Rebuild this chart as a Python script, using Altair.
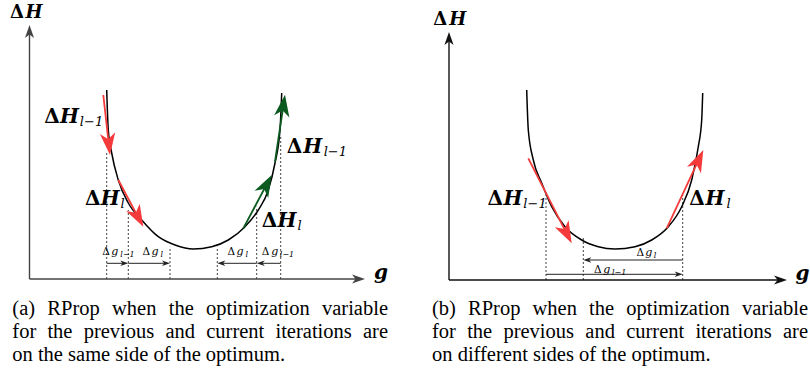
import math
import altair as alt
import pandas as pd

# ---------------- Panel (a): same side of the optimum ----------------
A_CURVE_G = [77.2, 78.8, 82.2, 88.8, 98.8, 112.2, 128.8, 145.5, 163.8, 182.2, 198.8, 215.5, 228.8, 238.8, 245.5, 250.5, 252.2]
A_CURVE_H = [189, 149, 126, 99, 76, 59, 42.3, 34, 30, 32.3, 39, 52.3, 69, 89, 116, 149, 186]
A_AXIS_TOP = 254
A_AXIS_RIGHT = 335.5
A_GUIDE_G = [77.2, 98.8, 140.5, 187.8, 227.2, 251.2]
A_GUIDE_TOP = [127.3, 69, 32.3, 32.3, 72.3, 142.3]
A_STEP_FROM = [77.2, 98.8, 227.2, 251.2]
A_STEP_TO = [98.8, 140.5, 187.8, 227.2]
A_STEP_H = [15.7, 15.7, 15.7, 15.7]
A_GRAD_G0 = [73.8, 88.8, 213.8, 245.5]
A_GRAD_H0 = [184, 99, 50.7, 117.3]
A_GRAD_G1 = [80.5, 113.8, 242.2, 255.5]
A_GRAD_H1 = [124, 52.3, 104, 184.3]
A_GRAD_COLOR = ["#f43a3a", "#f43a3a", "#0b5a1f", "#0b5a1f"]
# (text, centre g, baseline ΔH, font size, style)
A_TEXTS = [
    ("Δ", -12.5, 260.7, 18, "b"), ("H", 4.6, 260.7, 18, "bi"),
    ("Δ", 22.5, 155.7, 20, "b"), ("H", 40.0, 155.7, 20, "bi"), ("l−1", 62.0, 152.7, 13, "i"),
    ("Δ", 63.3, 74.0, 20, "b"), ("H", 80.8, 74.0, 20, "bi"), ("l", 93.0, 71.0, 13, "i"),
    ("Δ", 265.0, 125.7, 20, "b"), ("H", 283.3, 125.7, 20, "bi"), ("l−1", 305.8, 122.7, 13, "i"),
    ("Δ", 240.0, 52.3, 20, "b"), ("H", 257.5, 52.3, 20, "bi"), ("l", 270.0, 49.3, 13, "i"),
    ("g", 351.5, 0.5, 20, "bi"),
    ("Δ", 76.5, 24.0, 10.5, "n"), ("g", 85.2, 24.0, 11, "i"), ("l−1", 98.0, 22.0, 8, "i"),
    ("Δ", 116.8, 24.0, 10.5, "n"), ("g", 125.5, 24.0, 11, "i"), ("l", 132.2, 22.0, 8, "i"),
    ("Δ", 201.8, 24.0, 10.5, "n"), ("g", 210.5, 24.0, 11, "i"), ("l", 217.2, 22.0, 8, "i"),
    ("Δ", 236.0, 24.0, 10.5, "n"), ("g", 245.2, 24.0, 11, "i"), ("l−1", 257.5, 22.0, 8, "i"),
]
A_CAPTION = ["(a) RProp when the optimization variable",
             "for the previous and current iterations are",
             "on the same side of the optimum."]
A_CAPTION_SPAN = [-17.2, 358.5]
A_CAPTION_BASE = [-35.7, -58.7, -81.7]

# ---------------- Panel (b): different sides of the optimum ----------------
B_CURVE_G = [77.7, 79.3, 84.3, 92.7, 102.7, 116, 132.7, 149.3, 166, 186, 202.7, 219.3, 232.7, 242.7, 249.3, 252.7, 253.7]
B_CURVE_H = [190, 150, 120, 97, 73.3, 53.3, 40, 33.3, 31, 33.3, 40, 53.3, 73.3, 100, 133.3, 160, 187]
B_AXIS_TOP = 248
B_AXIS_RIGHT = 338
B_GUIDE_G = [97, 134.3, 233.7]
B_GUIDE_TOP = [85, 42, 85]
B_STEP_FROM = [233.7, 97]
B_STEP_TO = [134.3, 233.7]
B_STEP_H = [20, 5.7]
B_GRAD_G0 = [79.3, 217.7]
B_GRAD_H0 = [121.7, 51.7]
B_GRAD_G1 = [122.7, 254.3]
B_GRAD_H1 = [36.7, 130]
B_GRAD_COLOR = ["#f43a3a", "#f43a3a"]
B_TEXTS = [
    ("Δ", -8.7, 255.0, 18, "b"), ("H", 8.7, 255.0, 18, "bi"),
    ("Δ", 46.3, 75.0, 20, "b"), ("H", 64.0, 75.0, 20, "bi"), ("l−1", 86.0, 72.0, 13, "i"),
    ("Δ", 248.0, 75.0, 20, "b"), ("H", 266.0, 75.0, 20, "bi"), ("l", 279.5, 72.0, 13, "i"),
    ("g", 353.5, 0.0, 20, "bi"),
    ("Δ", 191.3, 24.0, 10.5, "n"), ("g", 199.7, 24.0, 11, "i"), ("l", 206.0, 22.0, 8, "i"),
    ("Δ", 148.8, 7.5, 10.5, "n"), ("g", 157.7, 7.5, 11, "i"), ("l−1", 170.2, 5.5, 8, "i"),
]
B_CAPTION = ["(b) RProp when the optimization variable",
             "for the previous and current iterations are",
             "on different sides of the optimum."]
B_CAPTION_SPAN = [-17.0, 359.0]
B_CAPTION_BASE = [-34.7, -57.7, -80.7]

HEAD_PATH = "M0,0 L0.7,2 L0,1.45 L-0.7,2 Z"
MATH_FONT = "DejaVu Serif"
CAPTION_FONT = "Liberation Serif"
CAPTION_SIZE = 20.5

# Times / Liberation Serif advance widths (1/1000 em) used to justify caption lines
TIMES_W = {"(": 333, ")": 333, "a": 444, "b": 500, "c": 444, "d": 500, "e": 444, "f": 333,
           "g": 500, "h": 500, "i": 278, "l": 278, "m": 778, "n": 500, "o": 500, "p": 500,
           "r": 333, "s": 389, "t": 278, "u": 500, "v": 500, "w": 722, "z": 444, "R": 667,
           "P": 556, ".": 250, " ": 250, "y": 500, "x": 500, "k": 500}


def word_width(w):
    return sum(TIMES_W.get(c, 500) for c in w) / 1000 * CAPTION_SIZE


def caption_rows(lines, span, bases):
    rows = []
    for i, (line, base) in enumerate(zip(lines, bases)):
        if i < len(lines) - 1:
            words = line.split(" ")
            total = sum(word_width(w) for w in words)
            gap = (span[1] - span[0] - total) / (len(words) - 1)
            x = span[0]
            for w in words:
                rows.append(dict(t=w, g=x, h=base))
                x += word_width(w) + gap
        else:
            rows.append(dict(t=line, g=span[0], h=base))
    return pd.DataFrame(rows)


def arrow_table(g0, h0, g1, h1, color, head_len, stroke_w):
    rows = []
    for a, b, c, d, col in zip(g0, h0, g1, h1, color):
        dg, dh = c - a, d - b
        n = math.hypot(dg, dh)
        ug, uh = dg / n, dh / n
        rows.append(dict(g0=a, h0=b, ge=c - ug * head_len * 0.6, he=d - uh * head_len * 0.6,
                         g1=c, h1=d, color=col, size=head_len ** 2,
                         angle=math.degrees(math.atan2(dg, dh)) % 360, sw=stroke_w))
    return pd.DataFrame(rows)


def panel(curve_g, curve_h, axis_top, axis_right, guide_g, guide_top,
          step_from, step_to, step_h, grad_g0, grad_h0, grad_g1, grad_h1, grad_color,
          texts, caption, cap_span, cap_base, width, xdom, ydom, axis_color):
    xs = alt.Scale(domain=xdom, nice=False, zero=False)
    ys = alt.Scale(domain=ydom, nice=False, zero=False)

    def X(f):
        return alt.X(f, type="quantitative", scale=xs, axis=None)

    def Y(f):
        return alt.Y(f, type="quantitative", scale=ys, axis=None)

    curve = pd.DataFrame({"g": curve_g, "h": curve_h, "o": list(range(len(curve_g)))})
    guides = pd.DataFrame({"g": guide_g, "top": guide_top, "bottom": [0] * len(guide_g)})

    axes = arrow_table([0, 0], [0, 0], [0, axis_right], [axis_top, 0],
                       [axis_color, axis_color], 13, 1.4)
    steps = arrow_table(step_from, step_h, step_to, step_h,
                        ["#222222"] * len(step_from), 8, 1.0)
    grads = arrow_table(grad_g0, grad_h0, grad_g1, grad_h1, grad_color, 22, 1.8)
    arrows = pd.concat([axes, steps, grads], ignore_index=True)

    lab = pd.DataFrame(texts, columns=["t", "g", "h", "s", "style"])
    cap = caption_rows(caption, cap_span, cap_base)

    layers = []
    layers.append(alt.Chart(guides).mark_rule(color="#111111", strokeWidth=0.8, strokeDash=[2, 2]).encode(
        x=X("g"), y=Y("bottom"), y2=alt.Y2("top")))
    layers.append(alt.Chart(curve).mark_line(color="black", strokeWidth=1.5, interpolate="monotone").encode(
        x=X("g"), y=Y("h"), order="o:Q"))
    layers.append(alt.Chart(arrows).mark_rule(strokeCap="butt").encode(
        x=X("g0"), y=Y("h0"), x2=alt.X2("ge"), y2=alt.Y2("he"),
        color=alt.Color("color:N", scale=None), strokeWidth=alt.StrokeWidth("sw:Q", scale=None)))
    layers.append(alt.Chart(arrows).mark_point(shape=HEAD_PATH, filled=True, opacity=1, strokeWidth=0).encode(
        x=X("g1"), y=Y("h1"), color=alt.Color("color:N", scale=None),
        size=alt.Size("size:Q", scale=None), angle=alt.Angle("angle:Q", scale=None)))

    styles = {"b": ("normal", "bold"), "bi": ("italic", "bold"), "i": ("italic", "normal"), "n": ("normal", "normal")}
    for key, (fs, fw) in styles.items():
        layers.append(alt.Chart(lab).transform_filter(alt.datum.style == key).mark_text(
            align="center", baseline="alphabetic", font=MATH_FONT, fontStyle=fs, fontWeight=fw, color="black").encode(
            x=X("g"), y=Y("h"), text="t:N", size=alt.Size("s:Q", scale=None)))

    layers.append(alt.Chart(cap).mark_text(
        align="left", baseline="alphabetic", font=CAPTION_FONT, fontSize=CAPTION_SIZE, color="black").encode(
        x=X("g"), y=Y("h"), text="t:N"))

    return alt.layer(*layers).properties(width=width, height=372)


pa = panel(A_CURVE_G, A_CURVE_H, A_AXIS_TOP, A_AXIS_RIGHT, A_GUIDE_G, A_GUIDE_TOP,
           A_STEP_FROM, A_STEP_TO, A_STEP_H, A_GRAD_G0, A_GRAD_H0, A_GRAD_G1, A_GRAD_H1, A_GRAD_COLOR,
           A_TEXTS, A_CAPTION, A_CAPTION_SPAN, A_CAPTION_BASE, 400, [-29.5, 370.5], [-93, 279], "#444444")
pb = panel(B_CURVE_G, B_CURVE_H, B_AXIS_TOP, B_AXIS_RIGHT, B_GUIDE_G, B_GUIDE_TOP,
           B_STEP_FROM, B_STEP_TO, B_STEP_H, B_GRAD_G0, B_GRAD_H0, B_GRAD_G1, B_GRAD_H1, B_GRAD_COLOR,
           B_TEXTS, B_CAPTION, B_CAPTION_SPAN, B_CAPTION_BASE, 390, [-29, 361], [-92, 280], "#111111")

chart = alt.hconcat(pa, pb, spacing=20).properties(padding=0, background="white").configure_view(stroke=None)

chart.save("out.html", embed_options={"renderer": "svg", "actions": False})
